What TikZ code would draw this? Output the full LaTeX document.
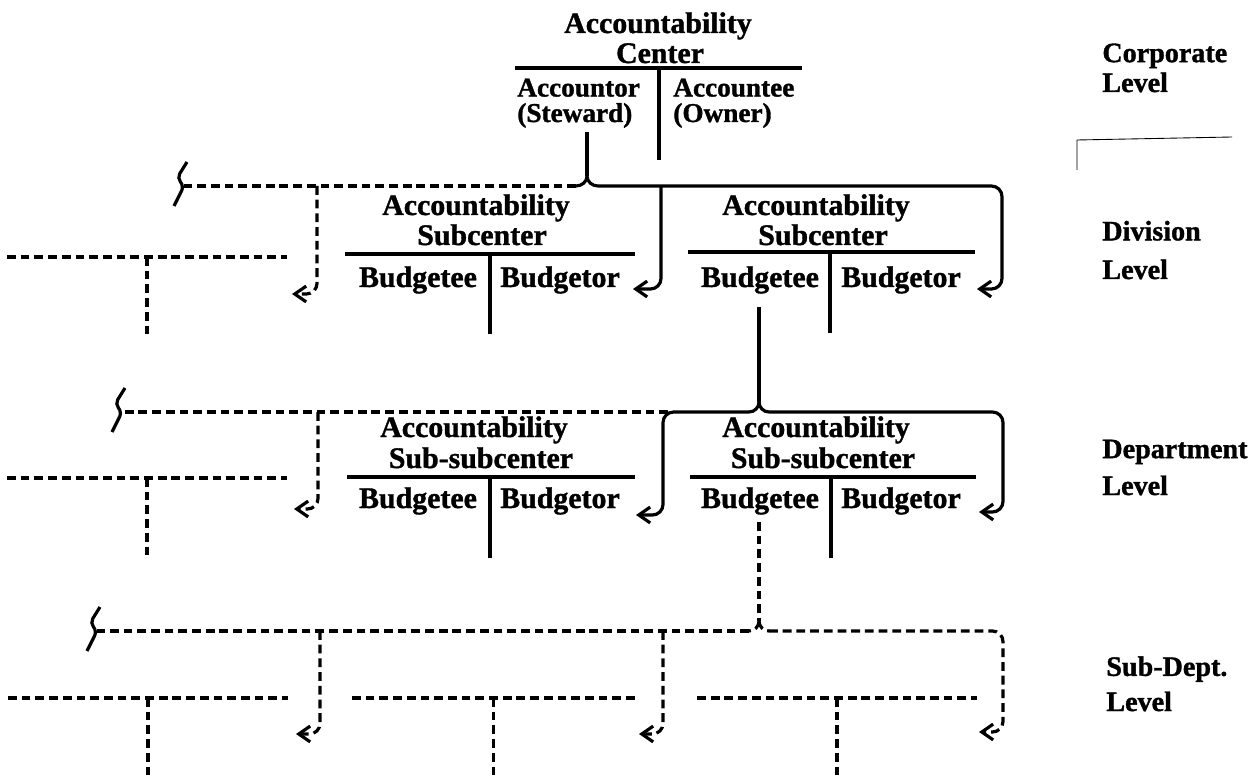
\documentclass[tikz,border=0pt]{standalone}
\usepackage{fontspec}
\setmainfont{Liberation Serif}[BoldFeatures={FakeBold=1.2}]
\usetikzlibrary{arrows.meta}

\tikzset{
  txt/.style={font=\bfseries\fontsize{17}{17}\selectfont, inner sep=0pt, anchor=base},
  pair/.style={font={\bfseries\fontsize{15.5}{14.5}\selectfont\lineskiplimit -20pt\relax}, inner sep=0pt, anchor=base west, align=left},
  lvl/.style={font={\bfseries\fontsize{16}{#1}\selectfont}, inner sep=0pt, anchor=base west, align=left},
  ln/.style={line width=1.8pt},
  dln/.style={line width=1.8pt, dash pattern=on 5pt off 2.8pt},
  tip/.style={-{Straight Barb[length=6.5pt,width=9pt]}},
}

\begin{document}
\begin{tikzpicture}[x=0.02cm, y=-0.02cm]
        \useasboundingbox (0,0) rectangle (1256,776);

        % Центр ответственности
        \node[txt]  (ctA) at (658,33)  {Accountability};
        \node[txt]  (ctB) at (660,63)  {Center};
        \node[pair] (tor) at (517,122) {Accountor\\(Steward)};
        \node[pair] (tee) at (673,122) {Accountee\\(Owner)};
        \draw[ln] (515,68) -- (802,68);
        \draw[ln] (659,68) -- (659,160);

        % Подцентры
        \node[txt] (d1a) at (476,215) {Accountability};
        \node[txt] (d1b) at (482,245) {Subcenter};
        \node[txt] (d1l) at (418,287) {Budgetee};
        \node[txt] (d1r) at (560,287) {Budgetor};
        \draw[ln] (345,254) -- (635,254);
        \draw[ln] (490,254) -- (490,334);

        \node[txt] (d2a) at (816,215) {Accountability};
        \node[txt] (d2b) at (823,245) {Subcenter};
        \node[txt] (d2l) at (760,287) {Budgetee};
        \node[txt] (d2r) at (901,287) {Budgetor};
        \draw[ln] (688,252) -- (975,252);
        \draw[ln] (830,252) -- (830,333);

        % Под-подцентры
        \node[txt] (p1a) at (474,437) {Accountability};
        \node[txt] (p1b) at (481,468) {Sub-subcenter};
        \node[txt] (p1l) at (418,508) {Budgetee};
        \node[txt] (p1r) at (560,508) {Budgetor};
        \draw[ln] (347,477) -- (635,477);
        \draw[ln] (490,477) -- (490,558);

        \node[txt] (p2a) at (816,437) {Accountability};
        \node[txt] (p2b) at (823,468) {Sub-subcenter};
        \node[txt] (p2l) at (760,508) {Budgetee};
        \node[txt] (p2r) at (901,508) {Budgetor};
        \draw[ln] (690,477) -- (976,477);
        \draw[ln] (831,477) -- (831,558);

        % Уровни
        \node[lvl=17pt] (lv0) at (1102,92)  {Corporate\\Level};
        \node[lvl=22pt] (lv1) at (1102,279) {Division\\Level};
        \node[lvl=21pt] (lv2) at (1102,495) {Department\\Level};
        \node[lvl=20pt] (lv3) at (1106,711) {Sub-Dept.\\Level};
        \draw[line width=0.5pt] (1077,170) -- (1077,140) -- (1232,137);

        % Точки связей
        \coordinate (s0)  at (587,132);
        \coordinate (j0)  at (587,176);
        \coordinate (j0l) at (576,186);
        \coordinate (j0r) at (598,186);
        \coordinate (b0)  at (184,186);
        \coordinate (t0)  at (661,186);
        \coordinate (v0)  at (317,186);
        \coordinate (e0a) at (292,294);
        \coordinate (e0b) at (633,289);
        \coordinate (e0c) at (977,289);

        \coordinate (s1)  at (759,307);
        \coordinate (j1)  at (759,402);
        \coordinate (j1l) at (749,412);
        \coordinate (j1r) at (769,412);
        \coordinate (b1)  at (122,412);
        \coordinate (t1)  at (668,412);
        \coordinate (v1)  at (318,412);
        \coordinate (e1a) at (294,509);
        \coordinate (e1b) at (636,515);
        \coordinate (e1c) at (979,512);

        \coordinate (s2)  at (759,522);
        \coordinate (j2)  at (759,621);
        \coordinate (j2l) at (749,631);
        \coordinate (j2r) at (769,631);
        \coordinate (b2)  at (97,631);
        \coordinate (v2a) at (320,631);
        \coordinate (v2b) at (663,631);
        \coordinate (e2a) at (296,734);
        \coordinate (e2b) at (639,734);
        \coordinate (e2c) at (979,732);

        % Корпоративный уровень -> подразделения
        \draw[ln] (s0) -- (j0);
        \draw[ln] (j0) to[out=-90,in=0] (j0l);
        \draw[ln] (j0) to[out=-90,in=180] (j0r);
        \draw[ln,tip,rounded corners=6pt] (j0r) -| (1002,289) -- (e0c);
        \draw[ln,tip,rounded corners=6pt] (t0) |- (e0b);
        \draw[dln] (j0l) -- (b0);
        \draw[dln,tip,rounded corners=6pt] (v0) |- (e0a);

        % Подразделение -> отделы
        \draw[ln] (s1) -- (j1);
        \draw[ln] (j1) to[out=-90,in=0] (j1l);
        \draw[ln] (j1) to[out=-90,in=180] (j1r);
        \draw[ln,tip,rounded corners=6pt] (j1r) -| (1003,512) -- (e1c);
        \draw[ln,tip,rounded corners=6pt] (j1l) -| (663,515) -- (e1b);
        \draw[dln] (t1) -- (b1);
        \draw[dln,tip,rounded corners=6pt] (v1) |- (e1a);

        % Отдел -> подотделы
        \draw[dln] (s2) -- (j2);
        \draw[dln] (j2) to[out=-90,in=0] (j2l);
        \draw[dln] (j2) to[out=-90,in=180] (j2r);
        \draw[dln,tip,rounded corners=6pt] (j2r) -| (1003,732) -- (e2c);
        \draw[dln] (j2l) -- (b2);
        \draw[dln,tip,rounded corners=6pt] (v2a) |- (e2a);
        \draw[dln,tip,rounded corners=6pt] (v2b) |- (e2b);

        % Разрывы
        \foreach \b in {b0,b1,b2}
            \draw[ln,rounded corners=3pt] (\b) ++(3,-24) -- ++(-10,16) -- ++(7,8) -- ++(-10,20);

        % Соседние ветви
        \foreach \a/\c/\y/\z in {7/287/257/334, 7/287/478/557, 8/288/698/776, 352/635/698/776, 697/977/698/776}
            \draw[dln] (\a,\y) -- (\c,\y) (\a/2+\c/2,\y) -- (\a/2+\c/2,\z);
\end{tikzpicture}
\end{document}
